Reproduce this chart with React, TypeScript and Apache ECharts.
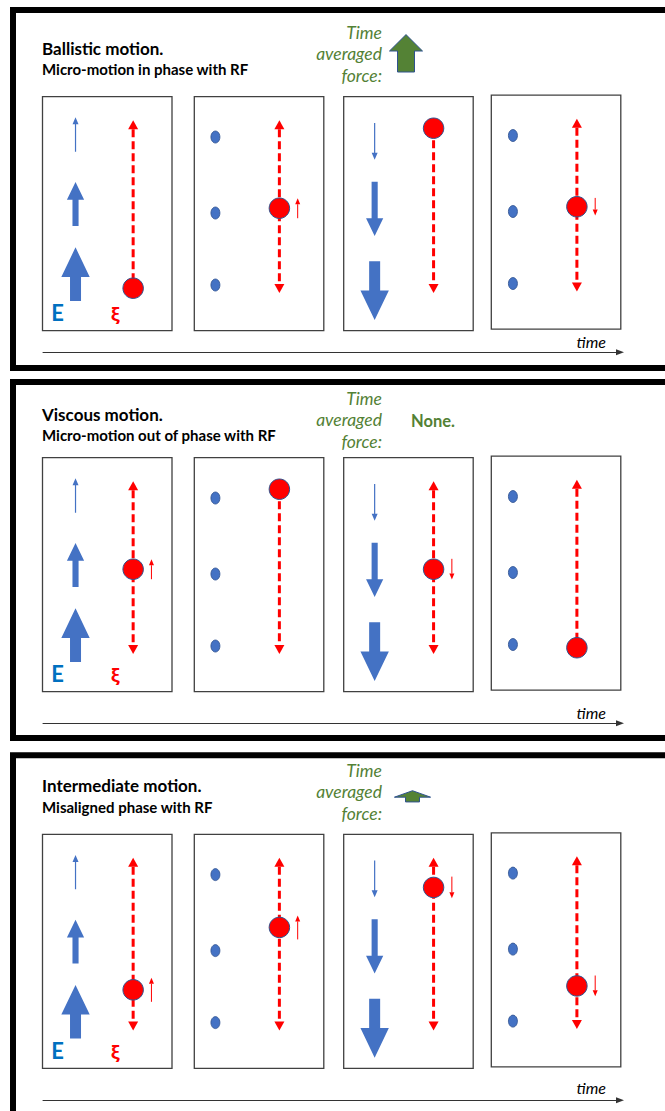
import React, { useEffect, useRef } from "react";
import * as echarts from "echarts";

// ---------------- data ----------------
const PANEL_TITLES = ["Ballistic motion.", "Viscous motion.", "Intermediate motion."];
const PANEL_SUBTITLES = [
  "Micro-motion in phase with RF",
  "Micro-motion out of phase with RF",
  "Misaligned phase with RF",
];
const FORCE_LABEL = ["Time", "averaged", "force:"];
const TIME_AVERAGED_FORCE = [1, 0, 0.3];
const NO_FORCE_LABEL = "None.";
const TIME_LABEL = "time";
const FIELD_LABEL = "E";
const XI_LABEL = "ξ";

// sign of the RF field in each of the four snapshots
const FIELD_SIGN = [1, 0, -1, 0];
// positions (ξ units) where the field is drawn, and its relative strength there
const FIELD_SITES = [0.89, -0.06, -0.96];
const FIELD_STRENGTH = [0.2, 0.6, 1.0];

// ion displacement ξ in each snapshot
const XI_BALLISTIC = [-1, 0, 1, 0];
const XI_VISCOUS = [0, 1, 0, -1];
const XI_INTERMEDIATE = [-0.55, 0.23, 0.73, -0.52];
// ion velocity (small red arrow), ξ units
const V_BALLISTIC = [0, 0.25, 0, -0.22];
const V_VISCOUS = [0.25, 0, -0.26, 0];
const V_INTERMEDIATE = [0.3, 0.3, -0.27, -0.26];
// micro-motion range (tips of the dashed arrow)
const XI_RANGE = [-1.06, 1.1];

const PANEL_XI = [XI_BALLISTIC, XI_VISCOUS, XI_INTERMEDIATE];
const PANEL_V = [V_BALLISTIC, V_VISCOUS, V_INTERMEDIATE];

// ---------------- layout / style ----------------
const W = 665;
const H = 1111;
const FONT = "Lato, 'Open Sans', sans-serif";
const BLUE = "#4472C4";
const BLUE_EDGE = "#2F528F";
const RED = "#FF0000";
const GREEN = "#548235";
const GREEN_TEXT = "#538135";
const E_BLUE = "#0070C0";
const BOX_BORDER = "#404040";

const PANEL_Y = [
  { frameTop: 10, frameBottom: 368, title: 48, subtitle: 69, forceMid: 53.3, boxTop: 96.7, time: 352.3, timeLabel: 341 },
  { frameTop: 382, frameBottom: 738, title: 414, subtitle: 435, forceMid: 419.3, boxTop: 457.7, time: 723.3, timeLabel: 712.7 },
  { frameTop: 755.3, frameBottom: 1125, title: 785.7, subtitle: 807.3, forceMid: 791.7, boxTop: 834.3, time: 1100.3, timeLabel: 1087 },
];
const BOX_LEFT = [42.5, 194.3, 343.7, 491.3];
const BOX_SHIFT = [0, 0, 0, -1.5];
const BOX_W = 129.5;
const BOX_H = 234;
const COL_BLUE = [0.255, 0.163, 0.239, 0.167];
const COL_RED = [0.7, 0.657, 0.694, 0.661];
const Y_MIN = -1.531;
const Y_MAX = 1.394;
// pixel offsets of field arrows (tail, tip) from their site, per site
const FIELD_ARROW = [
  { up: [14.7, -19.7], down: [-14, 22.7] },
  { up: [13, -30.9], down: [-31.3, 22.9] },
  { up: [15.9, -37.7], down: [-23.8, 35.1] },
];

function arrowPts(x: number, yTail: number, yTip: number, hw: number, sw: number, hl: number) {
  const d = Math.sign(yTip - yTail) || -1;
  const yb = yTip - d * hl;
  return [
    [x - sw / 2, yTail],
    [x - sw / 2, yb],
    [x - hw / 2, yb],
    [x, yTip],
    [x + hw / 2, yb],
    [x + sw / 2, yb],
    [x + sw / 2, yTail],
  ];
}

function textEl(text: string, x: number, y: number, font: string, fill: string, align: string) {
  return {
    type: "text",
    z: 10,
    silent: true,
    style: { text, x, y, font, fill, textAlign: align, textVerticalAlign: "middle" },
  };
}

function buildOption() {
  const grid: any[] = [];
  const xAxis: any[] = [];
  const yAxis: any[] = [];
  const series: any[] = [];
  const graphic: any[] = [];

  PANEL_Y.forEach((py, p) => {
    // frame
    graphic.push({
      type: "rect",
      z: 1,
      shape: { x: 13, y: py.frameTop, width: 720, height: py.frameBottom - py.frameTop },
      style: { fill: "none", stroke: "#000", lineWidth: 6 },
      silent: true,
    });
    graphic.push(textEl(PANEL_TITLES[p], 42, py.title, `bold 17px ${FONT}`, "#000", "left"));
    graphic.push(textEl(PANEL_SUBTITLES[p], 42, py.subtitle, `bold 15px ${FONT}`, "#000", "left"));
    const lineOff = [-21, 0, 21.7];
    FORCE_LABEL.forEach((t, i) => {
      graphic.push(textEl(t, 382, py.forceMid + lineOff[i], `italic 17.5px ${FONT}`, GREEN_TEXT, "right"));
    });
    if (TIME_AVERAGED_FORCE[p] === 0) {
      graphic.push(textEl(NO_FORCE_LABEL, 411, py.forceMid + 2, `bold 16.5px ${FONT}`, GREEN_TEXT, "left"));
    }
    // E and ξ labels in the first box
    graphic.push(textEl(FIELD_LABEL, BOX_LEFT[0] + 15.2, py.boxTop + 215.8, `bold 22px ${FONT}`, E_BLUE, "center"));
    graphic.push(textEl(XI_LABEL, BOX_LEFT[0] + 72.8, py.boxTop + 217.6, `bold 18px 'Open Sans', 'Noto Sans', sans-serif`, RED, "center"));
    // time label
    graphic.push(textEl(TIME_LABEL, 606, py.timeLabel, `italic 16px ${FONT}`, "#000", "right"));

    // four snapshot boxes
    for (let f = 0; f < 4; f++) {
      const gi = grid.length;
      grid.push({
        left: BOX_LEFT[f],
        top: py.boxTop + BOX_SHIFT[f],
        width: BOX_W,
        height: BOX_H,
        show: true,
        backgroundColor: "#fff",
        borderColor: BOX_BORDER,
        borderWidth: 1.3,
      });
      xAxis.push({ gridIndex: gi, type: "value", min: 0, max: 1, show: false });
      yAxis.push({ gridIndex: gi, type: "value", min: Y_MIN, max: Y_MAX, show: false });

      const sign = FIELD_SIGN[f];
      if (sign !== 0) {
        series.push({
          type: "custom",
          xAxisIndex: gi,
          yAxisIndex: gi,
          silent: true,
          z: 3,
          data: FIELD_SITES.map((s, i) => [COL_BLUE[f], s, i, sign, FIELD_STRENGTH[i]]),
          renderItem: (params: any, api: any) => {
            const pt = api.coord([api.value(0), api.value(1)]);
            const k = api.value(2);
            const dir = api.value(3);
            const s = api.value(4);
            const off = dir > 0 ? FIELD_ARROW[k].up : FIELD_ARROW[k].down;
            const hw = 28 * s + 0.4;
            const sw = Math.max(1.2, 12.25 * s - 1.25);
            const hl = Math.max(7, 30 * s - 0.3);
            return {
              type: "polygon",
              shape: { points: arrowPts(pt[0], pt[1] + off[0], pt[1] + off[1], hw, sw, hl) },
              style: { fill: BLUE },
            };
          },
        });
      } else {
        series.push({
          type: "scatter",
          xAxisIndex: gi,
          yAxisIndex: gi,
          silent: true,
          z: 3,
          symbol: "circle",
          symbolSize: [9, 12],
          itemStyle: { color: BLUE, borderColor: BLUE_EDGE, borderWidth: 0.8, opacity: 1 },
          data: FIELD_SITES.map((s) => [COL_BLUE[f], s]),
        });
      }

      const xi = PANEL_XI[p][f];
      const v = PANEL_V[p][f];
      // dashed micro-motion range
      series.push({
        type: "custom",
        xAxisIndex: gi,
        yAxisIndex: gi,
        silent: true,
        z: 3,
        data: [[COL_RED[f], xi]],
        renderItem: (params: any, api: any) => {
          const c = api.value(0);
          const x0 = api.value(1);
          const x = api.coord([c, 0])[0];
          const yIon = api.coord([c, x0])[1];
          const yTop = api.coord([c, XI_RANGE[1]])[1];
          const yBot = api.coord([c, XI_RANGE[0]])[1];
          const atTop = x0 >= 0.999;
          const atBot = x0 <= -0.999;
          const HL = 9;
          const HW = 10;
          const y1 = atTop ? yIon : yTop + HL;
          const y2 = atBot ? yIon : yBot - HL;
          const children: any[] = [
            {
              type: "line",
              shape: { x1: x, y1, x2: x, y2 },
              style: { stroke: RED, lineWidth: 3, lineDash: [8, 4], fill: null },
            },
          ];
          if (!atTop) {
            children.push({
              type: "polygon",
              shape: { points: [[x - HW / 2, yTop + HL], [x, yTop], [x + HW / 2, yTop + HL]] },
              style: { fill: RED },
            });
          }
          if (!atBot) {
            children.push({
              type: "polygon",
              shape: { points: [[x - HW / 2, yBot - HL], [x, yBot], [x + HW / 2, yBot - HL]] },
              style: { fill: RED },
            });
          }
          return { type: "group", children };
        },
      });
      // velocity arrow
      if (v !== 0) {
        series.push({
          type: "custom",
          xAxisIndex: gi,
          yAxisIndex: gi,
          silent: true,
          z: 4,
          data: [[COL_RED[f], xi, v]],
          renderItem: (params: any, api: any) => {
            const c = api.value(0);
            const x0 = api.value(1);
            const vv = api.value(2);
            const x = api.coord([c, x0])[0] + 18.3;
            const yTail = api.coord([c, x0 - vv / 2])[1];
            const yTip = api.coord([c, x0 + vv / 2])[1];
            const d = Math.sign(yTip - yTail);
            const hl = 6;
            const hw = 5;
            return {
              type: "group",
              children: [
                { type: "line", shape: { x1: x, y1: yTail, x2: x, y2: yTip - d * hl }, style: { stroke: RED, lineWidth: 1 } },
                {
                  type: "polygon",
                  shape: { points: [[x - hw / 2, yTip - d * hl], [x, yTip], [x + hw / 2, yTip - d * hl]] },
                  style: { fill: RED },
                },
              ],
            };
          },
        });
      }
      // ion
      series.push({
        type: "scatter",
        xAxisIndex: gi,
        yAxisIndex: gi,
        silent: true,
        z: 5,
        symbol: "circle",
        symbolSize: 20.5,
        itemStyle: { color: RED, borderColor: BLUE_EDGE, borderWidth: 1, opacity: 1 },
        data: [[COL_RED[f], xi]],
      });
    }

    // time averaged force arrow
    const force = TIME_AVERAGED_FORCE[p];
    {
      const gi = grid.length;
      grid.push({ left: 381, top: py.forceMid - 37.4, width: 50, height: 74.8, show: false });
      xAxis.push({ gridIndex: gi, type: "value", min: 0, max: 1, show: false });
      yAxis.push({ gridIndex: gi, type: "value", min: -1, max: 1, show: false });
      if (force > 0) {
        series.push({
          type: "custom",
          xAxisIndex: gi,
          yAxisIndex: gi,
          silent: true,
          z: 5,
          data: [[0.5, force]],
          renderItem: (params: any, api: any) => {
            const fv = api.value(1);
            const dy = 6.6 * (1 - fv);
            const x = api.coord([0.5, 0])[0] + 9.3 * (1 - fv);
            const yTail = api.coord([0.5, -fv / 2])[1] + dy;
            const yTip = api.coord([0.5, fv / 2])[1] + dy;
            const L = yTail - yTip;
            const hw = 37.5 - 4.5 * fv;
            const sw = 12.7 + 4.3 * fv;
            const hl = 2.2 + 0.38 * L;
            return {
              type: "polygon",
              shape: { points: arrowPts(x, yTail, yTip, hw, sw, hl) },
              style: { fill: GREEN, stroke: BLUE_EDGE, lineWidth: 1 },
            };
          },
        });
      }
    }

    // time axis
    {
      const gi = grid.length;
      grid.push({ left: 43, top: py.time - 1, width: 577, height: 1, show: false });
      xAxis.push({
        gridIndex: gi,
        type: "value",
        min: 0,
        max: 1,
        position: "bottom",
        axisLine: {
          show: true,
          onZero: false,
          symbol: ["none", "triangle"],
          symbolSize: [6, 8],
          lineStyle: { color: "#333", width: 1 },
        },
        axisTick: { show: false },
        axisLabel: { show: false },
        splitLine: { show: false },
      });
      yAxis.push({ gridIndex: gi, type: "value", min: 0, max: 1, show: false });
    }
  });

  return {
    animation: false,
    backgroundColor: "#fff",
    grid,
    xAxis,
    yAxis,
    series,
    graphic,
  };
}

export default function App() {
  const ref = useRef<HTMLDivElement>(null);
  useEffect(() => {
    document.body.style.margin = "0";
    const chart = echarts.init(ref.current as HTMLDivElement, null, { renderer: "svg", width: W, height: H });
    chart.setOption(buildOption() as any);
    return () => chart.dispose();
  }, []);
  return <div ref={ref} style={{ position: "absolute", left: 0, top: 0, width: W, height: H, background: "#fff" }} />;
}
